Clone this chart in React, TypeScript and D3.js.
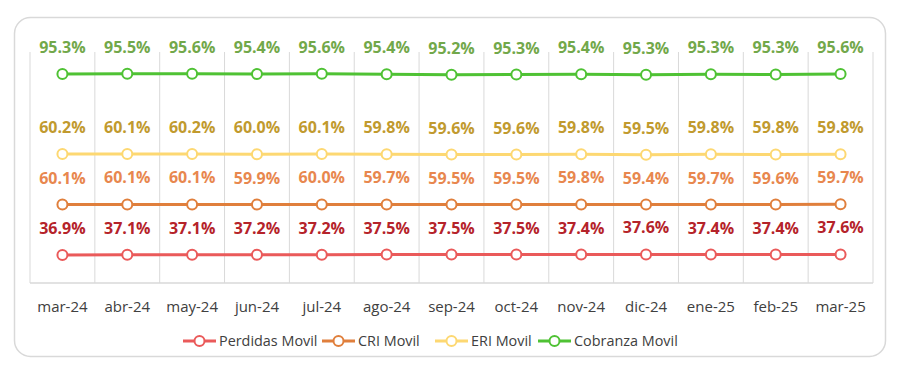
import React, { useEffect, useRef } from 'react';
import * as d3 from 'd3';

const months = ['mar-24', 'abr-24', 'may-24', 'jun-24', 'jul-24', 'ago-24', 'sep-24', 'oct-24', 'nov-24', 'dic-24', 'ene-25', 'feb-25', 'mar-25'];

const perdidas = [36.9, 37.1, 37.1, 37.2, 37.2, 37.5, 37.5, 37.5, 37.4, 37.6, 37.4, 37.4, 37.6];
const cri = [60.1, 60.1, 60.1, 59.9, 60.0, 59.7, 59.5, 59.5, 59.8, 59.4, 59.7, 59.6, 59.7];
const eri = [60.2, 60.1, 60.2, 60.0, 60.1, 59.8, 59.6, 59.6, 59.8, 59.5, 59.8, 59.8, 59.8];
const cobranza = [95.3, 95.5, 95.6, 95.4, 95.6, 95.4, 95.2, 95.3, 95.4, 95.3, 95.3, 95.3, 95.6];

const seriesNames = ['Perdidas Movil', 'CRI Movil', 'ERI Movil', 'Cobranza Movil'];
const lineColors = ['#ea5a5a', '#e07f3c', '#fdd872', '#4fc234'];
const labelColors = ['#b5232a', '#e8874e', '#c19a2e', '#72a84a'];

const W = 900;
const H = 366;

const App: React.FC = () => {
  const svgRef = useRef<SVGSVGElement>(null);

  useEffect(() => {
    if (!svgRef.current) return;
    const svg = d3.select(svgRef.current);
    svg.selectAll('*').remove();

    const font = '"Open Sans", sans-serif';

    // Outer rounded frame
    svg.append('rect')
      .attr('x', 14.5)
      .attr('y', 17.5)
      .attr('width', 871)
      .attr('height', 339)
      .attr('rx', 16)
      .attr('fill', '#fff')
      .attr('stroke', '#d9d9d9')
      .attr('stroke-width', 1.5);

    const plotLeft = 30;
    const plotRight = 873;
    const plotTop = 52;
    const plotBottom = 283;

    const x = d3.scaleBand<string>()
      .domain(months)
      .range([plotLeft, plotRight]);

    // stacked values (value axis is hidden)
    const rows = months.map((m, i) => ({
      month: m,
      s0: perdidas[i],
      s1: cri[i],
      s2: eri[i],
      s3: cobranza[i]
    }));
    const keys = ['s0', 's1', 's2', 's3'];
    const stacked = d3.stack<any>().keys(keys)(rows);
    const raw = [perdidas, cri, eri, cobranza];

    const y = d3.scaleLinear()
      .domain([0, 280])
      .range([286, 51]);

    // Vertical gridlines
    const boundaries = months.map(m => x(m) as number).concat([plotRight]);
    svg.append('g')
      .selectAll('line')
      .data(boundaries)
      .enter()
      .append('line')
      .attr('x1', d => d)
      .attr('x2', d => d)
      .attr('y1', plotTop)
      .attr('y2', plotBottom)
      .attr('stroke', '#d9d9d9')
      .attr('stroke-width', 1);

    svg.append('line')
      .attr('x1', plotLeft)
      .attr('x2', plotRight)
      .attr('y1', plotBottom)
      .attr('y2', plotBottom)
      .attr('stroke', '#d9d9d9')
      .attr('stroke-width', 1.5);

    // Category labels
    svg.append('g')
      .selectAll('text')
      .data(months)
      .enter()
      .append('text')
      .attr('x', d => (x(d) as number) + x.bandwidth() / 2)
      .attr('y', 312)
      .attr('text-anchor', 'middle')
      .attr('font-family', font)
      .attr('font-size', 15)
      .attr('fill', '#404040')
      .text(d => d);

    const cx = (i: number) => (x(months[i]) as number) + x.bandwidth() / 2;

    stacked.forEach((layer, s) => {
      const pts = layer.map((d, i) => [cx(i), y(d[1])] as [number, number]);
      const g = svg.append('g');

      g.append('path')
        .attr('d', d3.line()(pts))
        .attr('fill', 'none')
        .attr('stroke', lineColors[s])
        .attr('stroke-width', 3);

      g.selectAll('circle')
        .data(pts)
        .enter()
        .append('circle')
        .attr('cx', d => d[0])
        .attr('cy', d => d[1])
        .attr('r', 5)
        .attr('fill', '#fff')
        .attr('stroke', lineColors[s])
        .attr('stroke-width', 2);

      g.selectAll('text')
        .data(pts)
        .enter()
        .append('text')
        .attr('x', d => d[0])
        .attr('y', d => d[1] - 21)
        .attr('text-anchor', 'middle')
        .attr('font-family', font)
        .attr('font-weight', 700)
        .attr('font-size', 16)
        .attr('fill', labelColors[s])
        .text((d, i) => `${raw[s][i].toFixed(1)}%`);
    });

    // Legend
    const legendStarts = [183, 322, 435, 538];
    const legend = svg.append('g');
    seriesNames.forEach((name, s) => {
      const lx = legendStarts[s];
      const ly = 341;
      legend.append('line')
        .attr('x1', lx)
        .attr('x2', lx + 33)
        .attr('y1', ly)
        .attr('y2', ly)
        .attr('stroke', lineColors[s])
        .attr('stroke-width', 3);
      legend.append('circle')
        .attr('cx', lx + 16.5)
        .attr('cy', ly)
        .attr('r', 5)
        .attr('fill', '#fff')
        .attr('stroke', lineColors[s])
        .attr('stroke-width', 2);
      legend.append('text')
        .attr('x', lx + 36)
        .attr('y', ly + 5)
        .attr('font-family', font)
        .attr('font-size', 14.4)
        .attr('fill', '#404040')
        .text(name);
    });
  }, []);

  return (
    <svg
      ref={svgRef}
      width={W}
      height={H}
      style={{ position: 'absolute', left: 0, top: 0, display: 'block' }}
    />
  );
};

export default App;
